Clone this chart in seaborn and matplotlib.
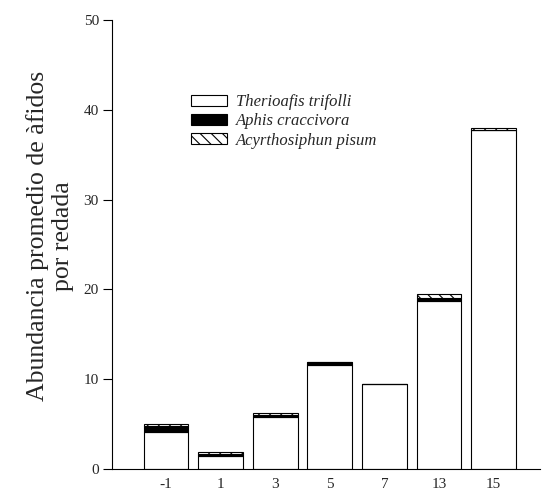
import matplotlib
matplotlib.use("Agg")
import matplotlib.pyplot as plt
import seaborn as sns
import numpy as np
import pandas as pd
from matplotlib.patches import Patch

days = ["-1", "1", "3", "5", "7", "13", "15"]
theri = [4.1, 1.4, 5.8, 11.6, 9.5, 18.7, 37.8]
aphis = [0.7, 0.3, 0.2, 0.3, 0.0, 0.3, 0.0]
acyr = [0.2, 0.2, 0.2, 0.0, 0.0, 0.5, 0.2]
species = ["Therioafis trifolli", "Aphis craccivora", "Acyrthosiphun pisum"]
ylabel = "Abundancia promedio de àfidos\npor redada"

sns.set_style("white")
plt.rcParams["font.family"] = ["Liberation Serif", "DejaVu Serif"]
plt.rcParams["hatch.linewidth"] = 0.8

df = pd.DataFrame({"day": days, "theri": theri, "aphis": aphis, "acyr": acyr})
b2 = np.array(theri) + np.array(aphis)

fig = plt.figure(figsize=(5.43, 4.93), dpi=100)
ax = fig.add_axes([0.2063, 0.0487, 0.7882, 0.9107])

common = dict(order=days, width=0.82, linewidth=0.8, edgecolor="black", ax=ax, errorbar=None)
sns.barplot(data=df, x="day", y="theri", color="white", saturation=1, **common)
sns.barplot(data=df, x="day", y="aphis", bottom=theri, color="black", saturation=1, **common)
sns.barplot(data=df, x="day", y="acyr", bottom=b2, color="white", saturation=1,
            hatch="\\\\\\", **common)

ax.set_xlim(-0.99, 6.85)
ax.set_ylim(0, 50)
ax.set_yticks([0, 10, 20, 30, 40, 50])
ax.set_xlabel("")
ax.set_ylabel("")
fig.text(50 / 543, 1 - 236 / 493, ylabel, rotation=90, ha="center", va="center",
         multialignment="center", fontsize=18.5, linespacing=1.22)
for s in ["top", "right"]:
    ax.spines[s].set_visible(False)
for s in ["left", "bottom"]:
    ax.spines[s].set_color("black")
    ax.spines[s].set_linewidth(0.8)
ax.tick_params(axis="y", which="both", left=True, direction="out", length=6.5,
               width=0.8, labelsize=11, pad=3, color="black")
ax.tick_params(axis="x", bottom=False, labelsize=11, pad=3)

handles = [Patch(facecolor="white", edgecolor="black", linewidth=0.8),
           Patch(facecolor="black", edgecolor="black", linewidth=0.8),
           Patch(facecolor="white", edgecolor="black", linewidth=0.8, hatch="\\\\\\")]
ax.legend(handles, species, loc="upper left", bbox_to_anchor=(0.168, 0.85),
          borderaxespad=0, frameon=False, prop={"style": "italic", "size": 12},
          handlelength=2.2, handleheight=0.66, labelspacing=0.2, handletextpad=0.5)

fig.savefig("out.png", dpi=100)
